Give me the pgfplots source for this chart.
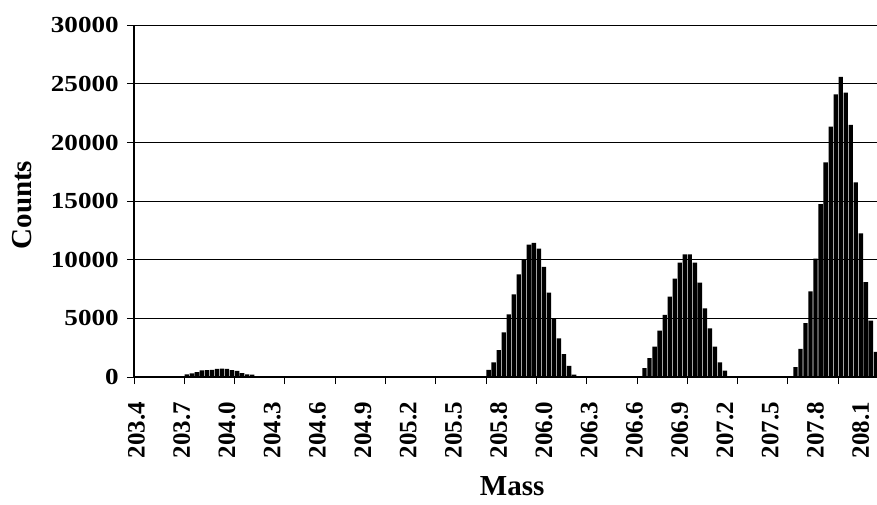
\documentclass[border=0pt]{standalone}
\usepackage{pgfplots}
\pgfplotsset{compat=1.18}
\usepackage{pgfplotstable}
\usepackage{fontspec}
\setmainfont{Liberation Serif}

% Histogram of counts per mass bin (bins indexed from 0; empty bins omitted)
\pgfplotstableread{
bin count
10 230
11 300
12 420
13 560
14 580
15 600
16 700
17 720
18 700
19 580
20 520
21 340
22 230
23 200
70 600
71 1250
72 2300
73 3800
74 5350
75 7050
76 8750
77 10050
78 11300
79 11450
80 10950
81 9400
82 7200
83 5000
84 3300
85 1950
86 950
87 200
101 750
102 1600
103 2600
104 3950
105 5300
106 6850
107 8400
108 9750
109 10450
110 10450
111 9750
112 8050
113 5850
114 4150
115 2600
116 1250
117 550
131 850
132 2400
133 4600
134 7300
135 10100
136 14750
137 18300
138 21350
139 24100
140 25600
141 24250
142 21500
143 16600
144 12250
145 8100
146 4800
147 2150
}\massspectrum

\begin{document}
\begin{tikzpicture}[x=1pt,y=1pt]
\useasboundingbox (0,0) rectangle (877,504);
\begin{axis}[
  at={(134pt,127pt)}, anchor=south west,
  scale only axis, width=744.44pt, height=351.7pt,
  xmin=0, xmax=148, ymin=0, ymax=30000,
  clip=false,
  axis x line*=bottom, axis y line*=left,
  axis line style={line width=1.4pt, black},
  tick align=outside, major tick length=7pt,
  tick style={line width=0.9pt, black},
  ytick={0,5000,10000,15000,20000,25000,30000},
  ymajorgrids, major grid style={line width=0.9pt, black},
  scaled y ticks=false,
  /pgf/number format/fixed,
  /pgf/number format/1000 sep={},
  /pgf/number format/assume math mode=true,
  yticklabel style={font=\bfseries\fontsize{23}{23}\selectfont, anchor=east, inner sep=0pt, xshift=-8pt, xscale=1.18},
  xtick={0,10,20,30,40,50,60,70,80,90,100,110,120,130,140},
  xticklabels={},
  extra x ticks={0.5,9.5,18.5,27.5,36.5,45.5,54.5,63.5,72.5,81.5,90.5,99.5,108.5,117.5,126.5,135.5,144.5},
  extra x tick labels={203.4,203.7,204.0,204.3,204.6,204.9,205.2,205.5,205.8,206.0,206.3,206.6,206.9,207.2,207.5,207.8,208.1},
  extra x tick style={major tick length=0pt, grid=none},
  xticklabel style={font=\bfseries\fontsize{25}{25}\selectfont, inner sep=0pt, yshift=-25pt, rotate=90, anchor=east},
  xlabel={Mass}, ylabel={Counts},
  xlabel style={font=\bfseries\fontsize{29}{29}\selectfont, at={(axis description cs:0.508,-0.31)}, anchor=center},
  ylabel style={font=\bfseries\fontsize{29}{29}\selectfont, at={(axis description cs:-0.1507,0.489)}, anchor=center},
]
\addplot[ybar, bar width=0.86, bar shift=0pt, fill=black, draw=none]
  table[x expr=\thisrow{bin}+0.5, y=count] {\massspectrum};
\end{axis}
\end{tikzpicture}
\end{document}
